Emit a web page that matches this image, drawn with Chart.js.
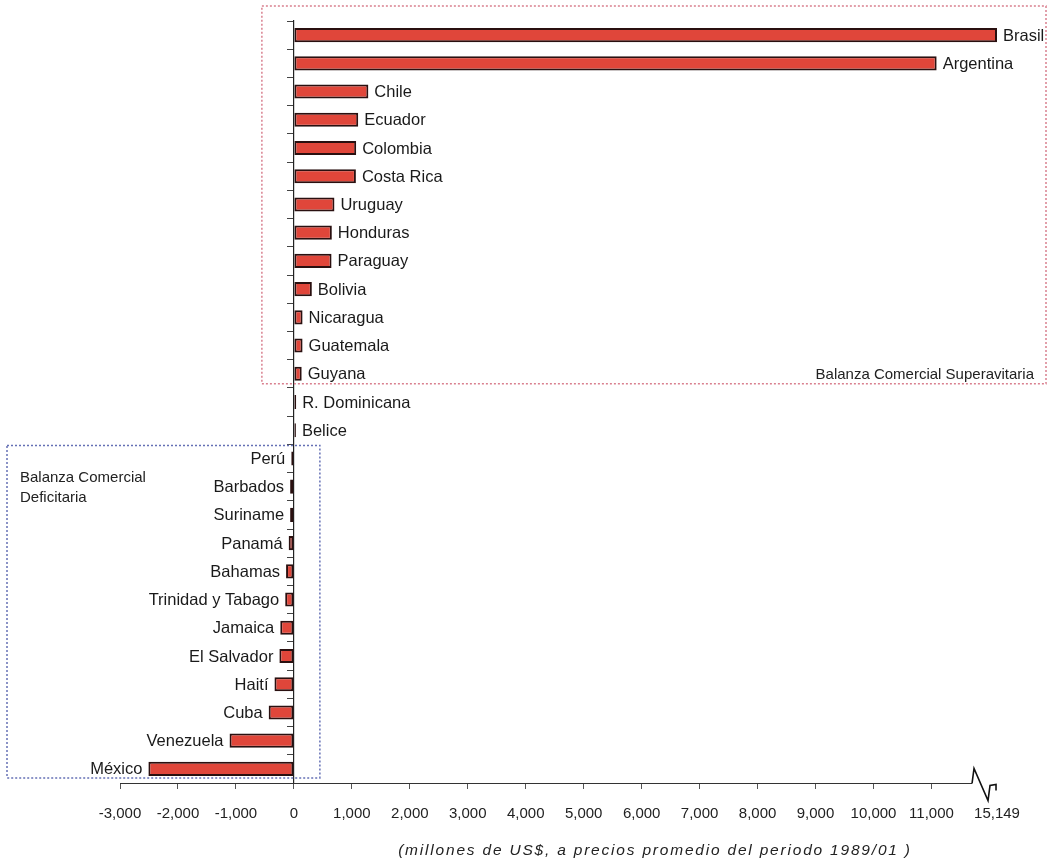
<!DOCTYPE html>
<html>
<head>
<meta charset="utf-8">
<title>Balanza comercial</title>
<script src="https://cdn.jsdelivr.net/npm/chart.js@4.4.1/dist/chart.umd.min.js"></script>
<style>
  html, body { margin: 0; padding: 0; background: #fff; }
  #chart { display: block; }
</style>
</head>
<body>
<canvas id="chart" width="1051" height="868"></canvas>
<script>
// countries, top to bottom
const countries = [
  'Brasil', 'Argentina', 'Chile', 'Ecuador', 'Colombia', 'Costa Rica', 'Uruguay',
  'Honduras', 'Paraguay', 'Bolivia', 'Nicaragua', 'Guatemala', 'Guyana',
  'R. Dominicana', 'Belice', 'Perú', 'Barbados', 'Suriname', 'Panamá', 'Bahamas',
  'Trinidad y Tabago', 'Jamaica', 'El Salvador', 'Haití', 'Cuba', 'Venezuela', 'México'
];
// trade balance, millones de US$
const balance = [
  15149, 11090, 1285, 1110, 1075, 1070, 700,
  655, 650, 310, 150, 150, 135,
  40, 35, -45, -65, -65, -90, -135,
  -150, -235, -250, -335, -435, -1110, -2510
];
const tickValues = [-3000, -2000, -1000, 0, 1000, 2000, 3000, 4000, 5000, 6000, 7000, 8000, 9000, 10000, 11000, 15149];

const axisTitle = '(millones de US$, a precios promedio del periodo 1989/01 )';
const surplusLabel = 'Balanza Comercial Superavitaria';
const deficitLabel = ['Balanza Comercial', 'Deficitaria'];

// the x axis is cut after BREAK_AT, whatever lies beyond is squeezed
const BREAK_AT = 11700;
const SQUEEZE = 0.125;
function squeeze(v) {
  return v > BREAK_AT ? BREAK_AT + (v - BREAK_AT) * SQUEEZE : v;
}

const FONT = '"Liberation Sans", Arial, Helvetica, sans-serif';
Chart.defaults.font.family = FONT;
Chart.defaults.color = '#222';

// country names next to the end of each bar
const barLabels = {
  id: 'barLabels',
  afterDatasetsDraw(chart) {
    const ctx = chart.ctx;
    const meta = chart.getDatasetMeta(0);
    ctx.save();
    ctx.font = '16.5px ' + FONT;
    ctx.fillStyle = '#1a1a1a';
    ctx.textBaseline = 'middle';
    meta.data.forEach((bar, i) => {
      if (balance[i] >= 0) {
        ctx.textAlign = 'left';
        ctx.fillText(countries[i], bar.x + 6, bar.y + 1);
      } else {
        ctx.textAlign = 'right';
        ctx.fillText(countries[i], bar.x - 6, bar.y + 1);
      }
    });
    ctx.restore();
  }
};

// x axis line with the break mark, the two dotted boxes and the axis title
const decorations = {
  id: 'decorations',
  afterDraw(chart) {
    const { ctx, chartArea } = chart;
    const x = chart.scales.x, y = chart.scales.y;
    const base = chartArea.bottom + 0.5;
    const xEnd = x.getPixelForValue(BREAK_AT);
    const x0 = x.getPixelForValue(0);

    ctx.save();
    ctx.strokeStyle = '#333';
    ctx.lineWidth = 1;
    ctx.beginPath();
    ctx.moveTo(x.getPixelForValue(-3000), base);
    ctx.lineTo(xEnd, base);
    ctx.stroke();

    ctx.strokeStyle = '#111';
    ctx.lineWidth = 1.6;
    ctx.beginPath();
    ctx.moveTo(xEnd, base);
    ctx.lineTo(xEnd + 2, base - 15);
    ctx.lineTo(xEnd + 16, base + 17);
    ctx.lineTo(xEnd + 18, base + 2);
    ctx.lineTo(xEnd + 24, base + 1);
    ctx.lineTo(xEnd + 24, base + 7);
    ctx.stroke();

    // surplus box
    ctx.setLineDash([2, 2]);
    ctx.lineWidth = 1.5;
    ctx.strokeStyle = '#d9808f';
    const pTop = chartArea.top - 15;
    const pBottom = y.getPixelForValue(12) + 10;
    const pLeft = x0 - 32;
    const pRight = chartArea.right + 45;
    ctx.strokeRect(pLeft, pTop, pRight - pLeft, pBottom - pTop);

    // deficit box
    ctx.strokeStyle = '#6570b5';
    const bTop = y.getPixelForValue(15) - 13;
    const bBottom = y.getPixelForValue(26) + 9;
    const bLeft = 7;
    const bRight = x0 + 26;
    ctx.strokeRect(bLeft, bTop, bRight - bLeft, bBottom - bTop);

    ctx.setLineDash([]);
    ctx.font = '15px ' + FONT;
    ctx.fillStyle = '#222';
    ctx.textBaseline = 'middle';
    ctx.textAlign = 'right';
    ctx.fillText(surplusLabel, pRight - 12, pBottom - 9);
    ctx.textAlign = 'left';
    ctx.fillText(deficitLabel[0], bLeft + 13, bTop + 32);
    ctx.fillText(deficitLabel[1], bLeft + 13, bTop + 52);

    // axis title, loosely spaced as in the print
    ctx.font = 'italic 15.5px ' + FONT;
    ctx.letterSpacing = '1.8px';
    ctx.textAlign = 'center';
    ctx.fillText(axisTitle, x.getPixelForValue(6230), chartArea.bottom + 68);
    ctx.restore();
  }
};

new Chart(document.getElementById('chart'), {
  type: 'bar',
  data: {
    labels: countries,
    datasets: [{
      data: balance.map(squeeze),
      backgroundColor: '#e0463a',
      borderColor: '#2a1010',
      borderWidth: 2,
      borderSkipped: false,
      barPercentage: 0.5,
      categoryPercentage: 1
    }]
  },
  options: {
    indexAxis: 'y',
    responsive: false,
    animation: false,
    layout: { padding: { left: 120, right: 50, top: 21, bottom: 29 } },
    plugins: {
      legend: { display: false },
      tooltip: { enabled: false }
    },
    scales: {
      x: {
        type: 'linear',
        min: -3000,
        max: 12200,
        afterBuildTicks: axis => {
          axis.ticks = tickValues.map(v => ({ value: squeeze(v) }));
        },
        border: { display: false },
        grid: {
          drawOnChartArea: false,
          drawTicks: true,
          tickLength: 6,
          tickColor: c => (c.tick && c.tick.value > BREAK_AT ? 'rgba(0,0,0,0)' : '#555')
        },
        ticks: {
          autoSkip: false,
          maxRotation: 0,
          padding: 16,
          font: { size: 15 },
          color: '#222',
          callback: (value, index) => tickValues[index].toLocaleString('en-US')
        }
      },
      y: {
        type: 'category',
        position: { x: 0 },
        ticks: { display: false },
        grid: {
          offset: true,
          drawOnChartArea: false,
          drawTicks: true,
          tickLength: 6,
          color: '#444'
        },
        border: { display: true, color: '#222', width: 1.2 }
      }
    }
  },
  plugins: [barLabels, decorations]
});
</script>
</body>
</html>
